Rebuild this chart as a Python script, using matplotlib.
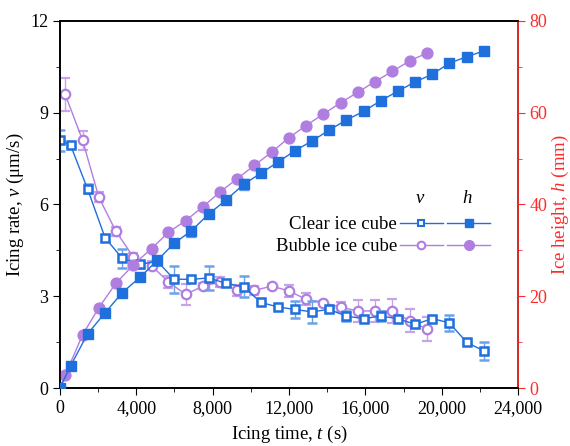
import numpy as np
import matplotlib
matplotlib.use('Agg')
import matplotlib.pyplot as plt
from matplotlib.ticker import MultipleLocator, FuncFormatter
from matplotlib.lines import Line2D

plt.rcParams['font.family'] = 'Liberation Serif'
plt.rcParams['mathtext.fontset'] = 'custom'
plt.rcParams['mathtext.rm'] = 'Liberation Serif'
plt.rcParams['mathtext.it'] = 'Liberation Serif:italic'

# clear ice cube: time (s), icing rate (um/s), ice height (mm)
t_clear = [0, 560, 1450, 2370, 3270, 4190, 5100, 5970, 6870, 7790, 8710, 9630, 10520,
           11410, 12300, 13190, 14100, 15000, 15910, 16800, 17700, 18600, 19510, 20400,
           21310, 22220]
v_clear = [8.1, 7.94, 6.51, 4.91, 4.24, 4.04, 4.15, 3.56, 3.55, 3.6, 3.42, 3.31, 2.8,
           2.65, 2.57, 2.49, 2.57, 2.35, 2.27, 2.35, 2.27, 2.08, 2.27, 2.13, 1.49, 1.21]
v_clear_err = [0.35, 0.05, 0.15, 0.1, 0.3, 0.1, 0.08, 0.44, 0.05, 0.39, 0.05, 0.35, 0.05,
               0.05, 0.27, 0.36, 0.08, 0.16, 0.05, 0.16, 0.05, 0.08, 0.05, 0.27, 0.05, 0.3]
h_clear = [0, 4.8, 11.8, 16.4, 20.8, 24.1, 27.8, 31.5, 34.2, 37.9, 41.0, 44.4, 46.8,
           49.2, 51.7, 53.8, 56.2, 58.4, 60.3, 62.6, 64.7, 66.7, 68.4, 70.8, 72.2, 73.5]
h_clear_err = [0, 0.8, 0.8, 0.8, 0.8, 0.8, 0.8, 0.8, 1.2, 0.8, 0.8, 1.2, 0.8,
               0.8, 0.8, 1.0, 0.8, 0.8, 0.8, 0.8, 0.8, 0.8, 0.8, 0.8, 0.8, 0.8]

# bubble ice cube
t_bub_v = [280, 1190, 2040, 2930, 3840, 4800, 5680, 6590, 7490, 8380, 9280, 10180,
           11090, 11980, 12890, 13800, 14710, 15620, 16510, 17410, 18320, 19220]
v_bub = [9.6, 8.1, 6.24, 5.13, 4.29, 4.0, 3.47, 3.06, 3.33, 3.46, 3.19, 3.19,
         3.33, 3.18, 2.9, 2.79, 2.64, 2.52, 2.52, 2.52, 2.2, 1.93]
v_bub_err = [0.55, 0.31, 0.16, 0.15, 0.14, 0.15, 0.19, 0.34, 0.1, 0.16, 0.18, 0.16,
             0.08, 0.19, 0.2, 0.05, 0.17, 0.36, 0.35, 0.38, 0.38, 0.39]
t_bub_h = [0] + t_bub_v
h_bub = [0, 2.8, 11.6, 17.5, 22.8, 26.8, 30.4, 33.9, 36.5, 39.5, 42.7, 45.6, 48.5,
         51.4, 54.5, 57.2, 59.7, 62.2, 64.5, 66.8, 69.0, 71.3, 73.0]
h_bub_err = [0] + [0.5] * 22

blue = '#1f6fdc'
purple = '#b07ee0'
red = '#ff2a2a'
fs = 13.5

fig, ax = plt.subplots(figsize=(5.7, 4.46), dpi=100)
fig.subplots_adjust(left=0.105, right=0.909, bottom=0.13, top=0.953)
ax2 = ax.twinx()

ebkw = dict(capsize=3.5, elinewidth=1, capthick=1, lw=1)
ax.errorbar(t_clear, v_clear, yerr=v_clear_err, color=blue, ecolor='#6aa2ea',
            marker='s', ms=5.3, mfc='white', mec=blue, mew=1.8, **ebkw, zorder=3)
ax.errorbar(t_bub_v, v_bub, yerr=v_bub_err, color=purple, ecolor='#c7a4ea',
            marker='o', ms=6.8, mfc='white', mec=purple, mew=1.6, **ebkw, zorder=2)
ax2.errorbar(t_clear, h_clear, yerr=h_clear_err, color=blue, ecolor='#6aa2ea',
             marker='s', ms=6.5, mfc=blue, mec=blue, **ebkw, zorder=3)
ax2.errorbar(t_bub_h, h_bub, yerr=h_bub_err, color=purple, ecolor='#c7a4ea',
             marker='o', ms=7.8, mfc=purple, mec=purple, **ebkw, zorder=2)

ax.set_xlim(0, 24000)
ax.set_ylim(0, 12)
ax2.set_ylim(0, 80)
ax.xaxis.set_major_locator(MultipleLocator(4000))
ax.xaxis.set_minor_locator(MultipleLocator(2000))
ax.xaxis.set_major_formatter(FuncFormatter(lambda x, p: f'{int(x):,}'))
ax.yaxis.set_major_locator(MultipleLocator(3))
ax.yaxis.set_minor_locator(MultipleLocator(1.5))
ax2.yaxis.set_major_locator(MultipleLocator(20))
ax2.yaxis.set_minor_locator(MultipleLocator(10))

ax.tick_params(which='both', direction='out', labelsize=13, top=False)
ax.tick_params(which='major', length=5)
ax.tick_params(which='minor', length=3)
ax2.tick_params(which='both', direction='out', colors=red, labelsize=13)
ax2.tick_params(which='major', length=5, pad=3)
ax2.tick_params(which='minor', length=3)
ax2.spines['right'].set_color(red)
for a in (ax, ax2):
    for s in a.spines.values():
        s.set_linewidth(1.2)

ax.set_xlabel('Icing time, $\\it{t}$ (s)', fontsize=fs, labelpad=5)
ax.set_ylabel('Icing rate, $\\it{v}$ (\u03bcm/s)', fontsize=fs, labelpad=3)
ax2.set_ylabel('Ice height, $\\it{h}$ (mm)', fontsize=fs, color=red, labelpad=2)

# legend: labels with v handles, then a second column of h handles
hv_c = Line2D([], [], color=blue, lw=1, marker='s', ms=4.5, mfc='white', mec=blue, mew=1.5)
hv_b = Line2D([], [], color=purple, lw=1, marker='o', ms=5.5, mfc='white', mec=purple, mew=1.5)
hh_c = Line2D([], [], color=blue, lw=1, marker='s', ms=6, mfc=blue, mec=blue)
hh_b = Line2D([], [], color=purple, lw=1, marker='o', ms=7, mfc=purple, mec=purple)
leg1 = ax2.legend([hv_c, hv_b], ['Clear ice cube', 'Bubble ice cube'],
                  markerfirst=False, frameon=False, fontsize=fs,
                  handlelength=2.3, handletextpad=0.15, labelspacing=0.25,
                  borderpad=0, borderaxespad=0,
                  bbox_to_anchor=(0.836, 0.468), loc='upper right')
ax2.add_artist(leg1)
leg2 = ax2.legend([hh_c, hh_b], ['', ''], frameon=False, fontsize=fs,
                  handlelength=2.3, handletextpad=0, labelspacing=0.25,
                  borderpad=0, borderaxespad=0,
                  bbox_to_anchor=(0.845, 0.468), loc='upper left')
ax2.text(0.786, 0.515, '$\\it{v}$', transform=ax2.transAxes, fontsize=fs,
         ha='center', va='center')
ax2.text(0.889, 0.515, '$\\it{h}$', transform=ax2.transAxes, fontsize=fs,
         ha='center', va='center')

fig.savefig('out.png', dpi=100)
